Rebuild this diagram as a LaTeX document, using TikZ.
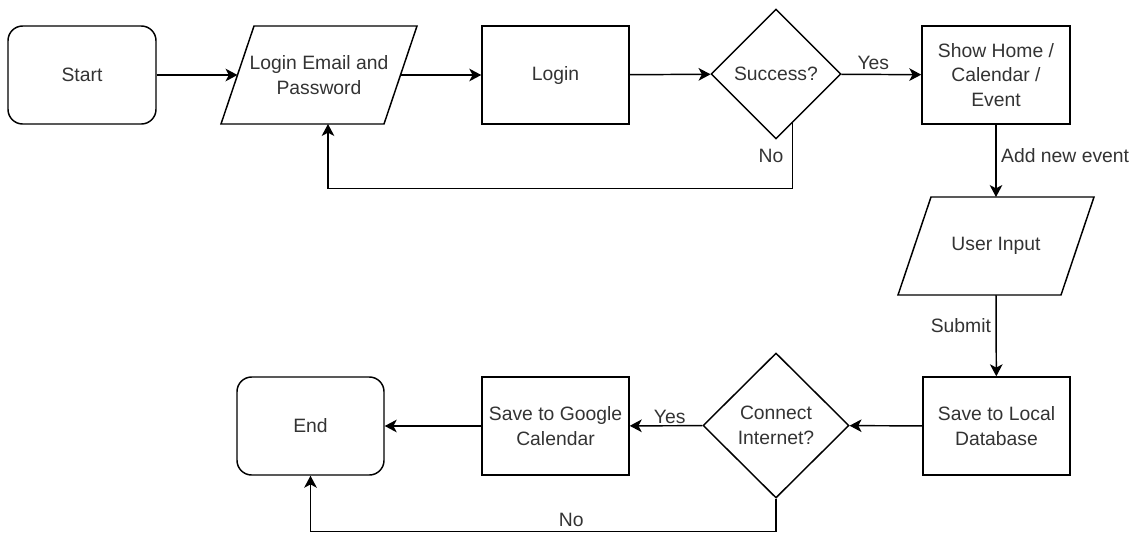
\documentclass[tikz,border=0pt]{standalone}
\usepackage{fontspec}
\setmainfont{Liberation Sans}
\usetikzlibrary{arrows.meta}
\usetikzlibrary{shapes.geometric}
\usetikzlibrary{calc}

\begin{document}
\begin{tikzpicture}[x=0.75pt,y=-0.75pt,
    font=\fontsize{14.5}{18.5}\selectfont,
    every node/.style={text=black!80},
    box/.style={draw,line width=1.1pt,minimum width=110.25pt,minimum height=73.5pt,align=center},
    terminal/.style={box,rounded corners=11pt},
    % slanted input box, drawn round a plain rectangle node
    io/.style={align=center,minimum width=147pt,minimum height=73.5pt,inner sep=2pt,outer sep=0pt,
      append after command={\pgfextra{\draw[line width=1.1pt,line join=miter]
        ([xshift=24.75pt]\tikzlastnode.north west) -- (\tikzlastnode.north east)
        -- ([xshift=-24.75pt]\tikzlastnode.south east) -- (\tikzlastnode.south west) -- cycle;}}},
    decision/.style={box,diamond,aspect=1,inner sep=0pt},
    flow/.style={-{Stealth[length=9pt,width=9.5pt,inset=2.5pt]},line width=1.1pt}]
  \useasboundingbox (0,0) rectangle (1142,533);

  % top row: sign in
  \node[terminal,minimum width=111pt] (start) at (82,75) {Start};
  \node[io] (email) at (319,75) {Login Email and\\Password};
  \node[box] (login) at (555.5,75) {Login};
  \node[decision,minimum width=97.5pt,minimum height=97.5pt] (success) at (776,74) {Success?};
  \node[box,minimum width=111pt] (show) at (996,75) {Show Home /\\Calendar /\\Event};

  % right column and bottom row: saving an event
  \node[io] (input) at (996,246) {User Input};
  \node[box] (local) at (996.5,426) {Save to Local\\Database};
  \node[decision,minimum width=109.5pt,minimum height=108.75pt] (connect) at (776,425.5) {Connect\\Internet?};
  \node[box] (google) at (555.5,426) {Save to Google\\Calendar};
  \node[terminal] (end) at (310.5,426) {End};

  \draw[flow] (start) -- ([xshift=12.375pt]email.west);
  \draw[flow] ([xshift=-12.375pt]email.east) -- (login);
  \draw[flow] (login) -- (success);
  \draw[flow] (success) -- node[above,pos=0.4] {Yes} (show);
  % failed login goes back to the form
  \coordinate (noexit) at ($(success.south)!0.25!(success.east)$);
  \draw[flow] (noexit) -- node[left,xshift=-3pt] {No} ++(0,65) -| ([xshift=6.75pt]email.south);

  \draw[flow] (show) -- node[right,pos=0.42] {Add new event} (input.north);
  \draw[flow] (input.south) -- node[left,pos=0.38] {Submit} (local);
  \draw[flow] (local) -- (connect);
  \draw[flow] (connect) -- node[above,pos=0.45,inner sep=1pt] {Yes} (google);
  \draw[flow] (google) -- (end);
  % offline: skip the sync
  \draw[flow] (connect.south) -- ++(0,33) -| node[above,pos=0.22] {No} (end.south);
\end{tikzpicture}
\end{document}
